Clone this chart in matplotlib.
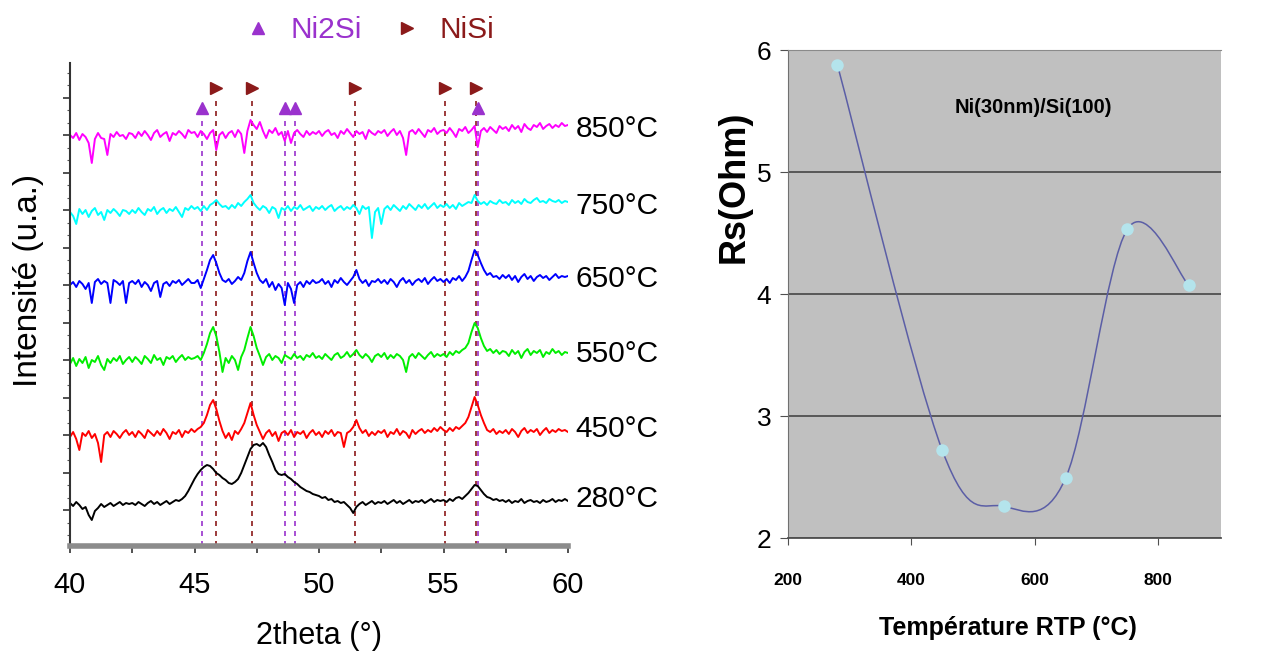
import numpy as np
import matplotlib
matplotlib.use("Agg")
import matplotlib.pyplot as plt
from matplotlib.lines import Line2D
from matplotlib.path import Path
from matplotlib.patches import PathPatch
from matplotlib.ticker import MultipleLocator, FixedLocator, AutoMinorLocator

# --- données DRX (intensité relative, pas de 0.125°) ---
two_theta = np.linspace(40, 60, 161)
temperatures = ["280°C", "450°C", "550°C", "650°C", "750°C", "850°C"]

xrd_280 = [
    2, -1, 3, 0, -4, -2, -10, -15, -6, -3, 1, -2, 0, 2, -1, 1, 3, 0, 2, 1,
    2, 0, 3, 1, -1, 2, 4, 1, 3, 0, 2, 4, 1, 3, 5, 4, 6, 9, 14, 20,
    26, 31, 35, 38, 40, 39, 36, 32, 30, 27, 25, 22, 21, 23, 26, 32, 40, 48, 56, 60,
    61, 59, 62, 58, 50, 43, 35, 31, 30, 31, 28, 26, 23, 21, 18, 16, 14, 13, 11, 10,
    9, 7, 8, 5, 6, 3, 4, 2, 3, 0, -3, -8, -2, 1, 3, 0, 2, 4, 1, 3,
    2, 4, 1, 3, 5, 2, 4, 1, 3, 5, 2, 4, 3, 5, 2, 4, 6, 3, 5, 4,
    5, 3, 6, 4, 7, 8, 6, 9, 12, 16, 20, 19, 15, 11, 8, 7, 5, 6, 4, 5,
    3, 5, 2, 4, 3, 6, 2, 4, 5, 3, 4, 2, 5, 3, 4, 6, 3, 5, 4, 6,
    4]
xrd_450 = [
    -2, 3, -4, -15, 2, -1, 4, -3, 1, -8, -27, 0, 3, -2, 4, 1, -3, 2, 5, 0,
    3, -2, 4, 1, -3, 5, 2, -1, 4, 0, 6, 2, -4, 3, 1, 5, -2, 4, 2, 6,
    3, 6, 8, 12, 20, 30, 35, 26, 14, 4, -3, 2, -5, 4, 1, 6, 12, 22, 32, 20,
    10, 3, -4, 2, 5, -1, 3, -6, 2, 4, 0, 5, -2, 3, 1, 4, -3, 2, 5, 0,
    3, -2, 4, 1, 5, -1, 3, 2, -12, 2, 4, 8, 15, 7, 2, 5, -1, 3, 0, 4,
    2, 5, -2, 3, 1, 6, 0, 4, 2, -3, 5, 1, 4, 6, 2, 5, 3, 7, 4, 8,
    5, 3, 7, 4, 8, 6, 9, 12, 18, 28, 38, 30, 20, 12, 5, 3, 6, 1, 4, 2,
    5, 1, 6, 3, -2, 4, 7, 2, 5, 3, 6, 0, 4, 7, 2, 5, 3, 6, 4, 5,
    3]
xrd_550 = [
    -4, 2, -6, 1, -3, 3, -8, 0, -2, 4, -5, -10, 1, -3, 2, -1, 4, -4, 0, 3,
    -2, 3, 0, -4, 4, 1, -3, 5, 0, 2, -5, 3, 1, 4, -2, 2, 5, 0, 3, 1,
    2, 4, 0, 7, 16, 27, 33, 24, 8, -12, 2, -3, 4, 0, -10, 3, 10, 22, 33, 24,
    12, 4, -5, 3, 6, 0, 4, 2, -3, 5, 3, 1, 6, 2, 4, 0, 5, 3, 7, 2,
    4, 1, 6, 3, 0, 5, 7, 2, 4, 8, 3, 6, 10, 5, 2, 6, 3, -2, 4, 6,
    3, 7, 1, 5, 2, 6, 4, 0, -12, 3, 6, 2, 7, 4, 1, 5, 8, 3, 6, 4,
    6, 3, 8, 5, 9, 7, 10, 12, 17, 28, 37, 32, 22, 14, 9, 11, 7, 10, 6, 9,
    8, 4, 10, 6, 9, 2, 8, 11, 5, 9, 7, 10, 3, 8, 6, 11, 7, 9, 5, 8,
    7]
xrd_650 = [
    0, 3, -2, 4, 1, -4, 2, -18, 3, 6, 1, 4, 2, -18, 5, 3, 0, 4, -18, 2,
    4, 1, 5, -2, 3, 0, -6, 2, 4, -12, 1, 3, -1, 4, 2, 5, 0, 3, 6, 2,
    2, 5, -3, 6, 15, 25, 30, 22, 12, 5, 3, 6, 1, 4, 8, 5, 12, 24, 33, 22,
    12, 5, 2, 6, -2, 3, -5, 1, -3, -20, 2, -4, -18, 0, 3, -2, 4, 1, 5, 2,
    3, 6, 1, 4, -2, 5, 2, 7, 3, 0, 4, 8, 15, 6, 2, 5, -1, 4, 3, 6,
    2, 5, 1, 6, 3, -2, 4, 7, 2, 5, 0, 4, 6, 3, 7, 1, 5, 8, 4, 6,
    3, 6, 2, 7, 5, 9, 4, 8, 14, 25, 35, 30, 22, 15, 10, 12, 8, 9, 6, 10,
    7, 10, 5, 9, 3, 8, 11, 6, 9, 4, 8, 10, 7, 9, 5, 8, 11, 7, 9, 8,
    9]
xrd_750 = [
    0, -4, -12, 3, -2, 2, -5, 1, 4, -3, 0, -8, 2, -1, 3, 0, -4, 2, 1, -2,
    2, -1, 4, 0, -3, 3, 1, 5, -2, 2, 4, -1, 3, 1, 5, 0, -5, 4, 2, 6,
    3, 5, 1, 6, 2, 7, 9, 12, 8, 5, 6, 3, 7, 4, 9, 6, 10, 13, 17, 9,
    5, 2, 6, 4, -1, 5, 3, -6, 4, 2, 6, 1, 5, 3, 7, 2, 4, 6, 1, 5,
    3, 6, 2, 5, 7, 1, 4, 6, 2, 5, 3, 7, 4, -2, 6, 3, 5, -26, 0, 4,
    -12, 3, 6, 2, 7, 4, 1, 6, 3, 8, 5, 2, 7, 4, 8, 3, 6, 9, 4, 7,
    5, 8, 4, 7, 3, 9, 6, 8, 10, 9, 17, 11, 8, 10, 7, 11, 9, 8, 12, 9,
    10, 7, 12, 9, 11, 8, 13, 10, 9, 12, 14, 10, 11, 9, 13, 11, 10, 12, 9, 11,
    10]
xrd_850 = [
    0, -3, 2, -5, 1, -2, -8, -28, -4, 2, -3, -4, -20, 1, -2, 3, -1, 0, -4, 2,
    1, -3, 3, -1, 4, 0, -5, 2, 5, -2, 1, 3, -6, 2, 0, 4, 1, -3, 5, 2,
    3, -2, 4, 1, -4, 2, 5, -15, 0, 3, -3, 2, 4, -2, 5, 1, -18, 4, 15, 10,
    6, 13, 4, -3, 5, 2, 7, 0, 3, -6, 4, -8, 2, 5, 1, -2, 4, 0, 3, 1,
    4, -1, 3, 5, 0, 2, -3, 4, 1, 6, 2, -2, 4, 1, 3, -4, 5, 2, 0, 4,
    2, 5, -1, 3, 6, 0, 4, -3, -20, 3, 5, 1, 6, 2, -2, 5, 3, 7, 1, 4,
    5, 2, 7, 3, -2, 6, 4, 8, 2, 5, 9, -12, 4, 7, 3, 8, 5, 2, 9, 6,
    8, 4, 10, 6, 9, 3, 11, 7, 5, 10, 8, 12, 6, 9, 11, 7, 10, 8, 12, 9,
    10]

ni2si_peaks = [45.3, 48.65, 49.05, 56.4]
nisi_peaks = [45.85, 47.3, 51.45, 55.05, 56.3]

# --- résistance carrée vs température RTP ---
rtp_temp = [280, 450, 550, 650, 750, 850]
rs_ohm = [5.88, 2.72, 2.26, 2.49, 4.53, 4.07]

# --- style ---
plt.rcParams["font.family"] = "Liberation Sans"
PURPLE = "#9A32CD"
MAROON = "#8B1A1A"
trace_colors = ["black", "#FF0000", "#00EE00", "#0000FF", "#00FFFF", "#FF00FF"]
offsets = [41, 111, 186, 261, 334, 411]


def smooth_path(x, y):
    """Courbe lissée type Excel (Bézier Catmull-Rom) passant par les points."""
    pts = np.column_stack([x, y]).astype(float)
    n = len(pts)
    verts = [pts[0]]
    codes = [Path.MOVETO]
    for i in range(n - 1):
        p0 = pts[max(i - 1, 0)]
        p1, p2 = pts[i], pts[i + 1]
        p3 = pts[min(i + 2, n - 1)]
        verts += [p1 + (p2 - p0) / 6, p2 - (p3 - p1) / 6, p2]
        codes += [Path.CURVE4] * 3
    return Path(verts, codes)


fig = plt.figure(figsize=(12.61, 6.52), dpi=100)

# ---------- DRX ----------
ax1 = fig.add_axes([70 / 1261, 106 / 652, 498 / 1261, 483 / 652])
traces = [xrd_280, xrd_450, xrd_550, xrd_650, xrd_750, xrd_850]
for temp, trace, off, col in zip(temperatures, traces, offsets, trace_colors):
    ax1.plot(two_theta, np.asarray(trace) + off, color=col, lw=1.4, zorder=2)
    ax1.text(60.3, off + 6, temp, fontsize=21.5, va="center", ha="left", clip_on=False)

ax1.vlines(ni2si_peaks, 0, 428, colors=PURPLE, linestyles=(0, (3, 3)), lw=1.2, zorder=1)
ax1.vlines(nisi_peaks, 0, 449, colors=MAROON, linestyles=(0, (3, 3)), lw=1.2, zorder=1)
ax1.plot(ni2si_peaks, np.full(len(ni2si_peaks), 438), "^", color=PURPLE, ms=9, clip_on=False)
ax1.plot(nisi_peaks, np.full(len(nisi_peaks), 458), ">", color=MAROON, ms=9, clip_on=False)

handles = [Line2D([], [], marker="^", color=PURPLE, ls="none", ms=9),
           Line2D([], [], marker=">", color=MAROON, ls="none", ms=9)]
ax1.legend(handles, ["Ni2Si", "NiSi"], ncol=2, frameon=False, loc="center",
           bbox_to_anchor=(0.60, 1.068), labelcolor=[PURPLE, MAROON],
           prop={"size": 21.5}, handletextpad=0.6, columnspacing=1.0, handlelength=1.0)

ax1.set_xlim(40, 60)
ax1.set_ylim(0, 483)
ax1.spines["top"].set_visible(False)
ax1.spines["right"].set_visible(False)
ax1.spines["left"].set_color("#333333")
ax1.spines["left"].set_linewidth(1.5)
ax1.spines["bottom"].set_color("#8c8c8c")
ax1.spines["bottom"].set_linewidth(4)
ax1.xaxis.set_major_locator(MultipleLocator(5))
ax1.xaxis.set_minor_locator(MultipleLocator(2.5))
ax1.yaxis.set_major_locator(FixedLocator(np.arange(36, 483, 37.5)))
ax1.yaxis.set_minor_locator(AutoMinorLocator(3))
ax1.set_yticklabels([])
ax1.tick_params(axis="x", which="both", length=5, width=1.2, color="#333333",
                labelsize=21, pad=13)
ax1.tick_params(axis="y", which="major", length=5, width=1.2, color="#333333")
ax1.tick_params(axis="y", which="minor", length=2.5, width=0.8, color="#555555")
ax1.set_xlabel("2theta (°)", fontsize=22, labelpad=16)
ax1.set_ylabel("Intensité (u.a.)", fontsize=24)
ax1.yaxis.set_label_coords(-0.052, 0.55)

# ---------- Rs ----------
ax2 = fig.add_axes([788 / 1261, 114 / 652, 433 / 1261, 488 / 652])
ax2.set_facecolor("#C0C0C0")
ax2.add_patch(PathPatch(smooth_path(rtp_temp, rs_ohm), fill=False,
                        edgecolor="#5B5EA6", lw=1.1, zorder=3))
ax2.plot(rtp_temp, rs_ohm, "o", color="#B4E4EC", ms=9, mec="none", zorder=4)
ax2.set_xlim(200, 902)
ax2.set_ylim(2, 6)
ax2.set_xticks([200, 400, 600, 800])
ax2.set_yticks([2, 3, 4, 5, 6])
ax2.grid(axis="y", color="#505050", lw=1.3)
ax2.set_axisbelow(True)
ax2.spines["right"].set_visible(False)
ax2.spines["top"].set_color("#8a8a8a")
ax2.spines["left"].set_color("#707070")
ax2.spines["bottom"].set_color("#505050")
ax2.spines["bottom"].set_linewidth(1.3)
ax2.tick_params(axis="y", length=6, color="#505050", labelsize=19, pad=6)
ax2.tick_params(axis="x", length=5, color="#505050", labelsize=12.5, pad=20)
for lab in ax2.get_xticklabels():
    lab.set_fontweight("bold")
ax2.text(598, 5.53, "Ni(30nm)/Si(100)", fontsize=14.5, fontweight="bold",
         ha="center", va="center")
ax2.set_xlabel("Température RTP (°C)", fontsize=18, fontweight="bold")
ax2.xaxis.set_label_coords(0.508, -0.16)
ax2.set_ylabel("Rs(Ohm)", fontsize=26, fontweight="bold")
ax2.yaxis.set_label_coords(-0.085, 0.72)

fig.savefig("out.png", dpi=100)
